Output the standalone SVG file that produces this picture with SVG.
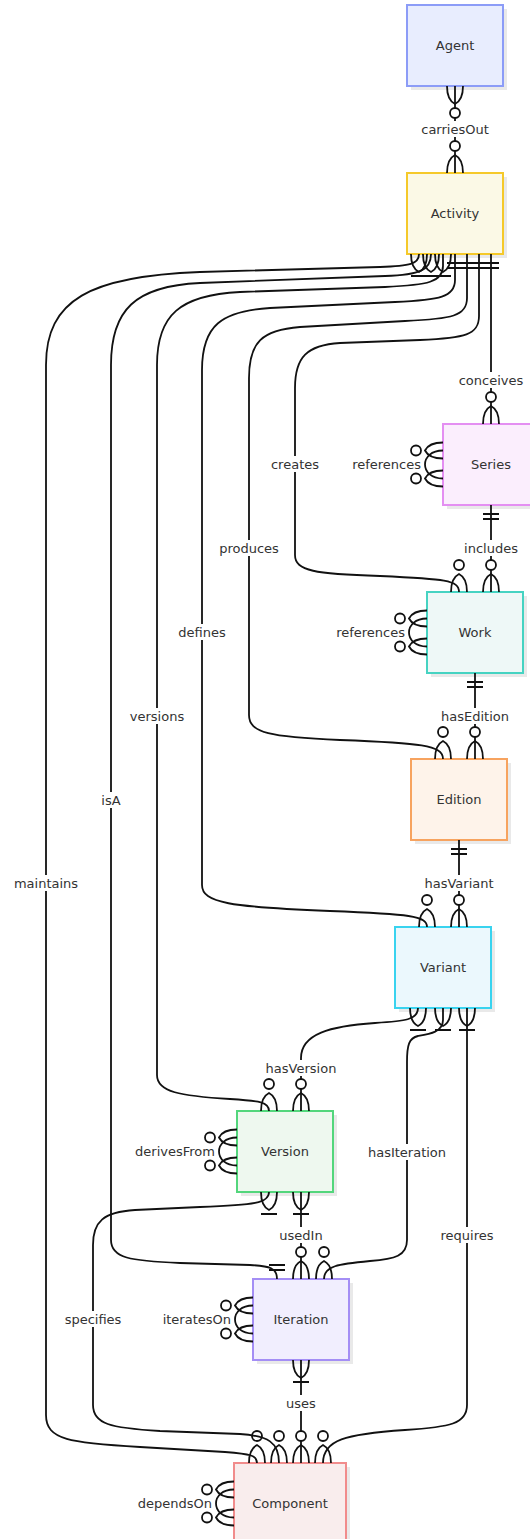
<svg xmlns="http://www.w3.org/2000/svg" width="530" height="1539" viewBox="0 0 530 1539">
<style>
.shadow{fill:#e9e9e9}
.box{stroke-width:2}
.nl{font-family:"DejaVu Sans",sans-serif;font-size:13px;fill:#333;text-anchor:middle;dominant-baseline:central}
.el{font-family:"DejaVu Sans",sans-serif;font-size:13px;fill:#333;text-anchor:middle;dominant-baseline:central}
.er{text-anchor:end}
.lbg{fill:#fff}
.edge{fill:none;stroke:#111;stroke-width:1.8}
.m{fill:none;stroke:#111;stroke-width:1.8}
.mc{fill:#fff;stroke:#111;stroke-width:1.8}
</style>
<defs>
<marker id="zm" markerUnits="userSpaceOnUse" viewBox="-40 -12 44 24" markerWidth="44" markerHeight="24" refX="0" refY="0" orient="auto-start-reverse" overflow="visible">
<path class="m" d="M0,-8 Q-14,-8 -18,0 Q-14,8 0,8"/>
<circle class="mc" cx="-27" cy="0" r="5"/>
</marker>
<marker id="om" markerUnits="userSpaceOnUse" viewBox="-40 -12 44 24" markerWidth="44" markerHeight="24" refX="0" refY="0" orient="auto-start-reverse" overflow="visible">
<path class="m" d="M0,-8 Q-14,-8 -18,0 Q-14,8 0,8 M-22,-8 L-22,8"/>
</marker>
<marker id="oo" markerUnits="userSpaceOnUse" viewBox="-40 -12 44 24" markerWidth="44" markerHeight="24" refX="0" refY="0" orient="auto-start-reverse" overflow="visible">
<path class="m" d="M-9,-8 L-9,8 M-14,-8 L-14,8"/>
</marker>
</defs>
<rect width="530" height="1539" fill="#fff"/>

<g id="nodes">
<g id="Agent"><rect class="shadow" x="411" y="9" width="96" height="81"/><rect class="box" x="407" y="5" width="96" height="81" fill="#e8edfe" stroke="#8c9cf7"/><text class="nl" x="455" y="45.5">Agent</text></g>
<g id="Activity"><rect class="shadow" x="411" y="177" width="96" height="81"/><rect class="box" x="407" y="173" width="96" height="81" fill="#fbf9e6" stroke="#f5c92a"/><text class="nl" x="455" y="213.5">Activity</text></g>
<g id="Series"><rect class="shadow" x="447" y="428" width="96" height="81"/><rect class="box" x="443" y="424" width="96" height="81" fill="#fbeefd" stroke="#e48ff2"/><text class="nl" x="491" y="464.5">Series</text></g>
<g id="Work"><rect class="shadow" x="431" y="596" width="96" height="81"/><rect class="box" x="427" y="592" width="96" height="81" fill="#eef8f7" stroke="#46d3c2"/><text class="nl" x="475" y="632.5">Work</text></g>
<g id="Edition"><rect class="shadow" x="415" y="763" width="96" height="81"/><rect class="box" x="411" y="759" width="96" height="81" fill="#fef3ea" stroke="#f7a35f"/><text class="nl" x="459" y="799.5">Edition</text></g>
<g id="Variant"><rect class="shadow" x="399" y="931" width="96" height="81"/><rect class="box" x="395" y="927" width="96" height="81" fill="#ebf8fd" stroke="#39d3ef"/><text class="nl" x="443" y="967.5">Variant</text></g>
<g id="Version"><rect class="shadow" x="241" y="1115" width="96" height="81"/><rect class="box" x="237" y="1111" width="96" height="81" fill="#eef8ef" stroke="#53d67c"/><text class="nl" x="285" y="1151.5">Version</text></g>
<g id="Iteration"><rect class="shadow" x="257" y="1283" width="96" height="81"/><rect class="box" x="253" y="1279" width="96" height="81" fill="#f1eefe" stroke="#a48ef5"/><text class="nl" x="301" y="1319.5">Iteration</text></g>
<g id="Component"><rect class="shadow" x="238" y="1467" width="112" height="81"/><rect class="box" x="234" y="1463" width="112" height="81" fill="#f9eded" stroke="#f18c8c"/><text class="nl" x="290" y="1503.5">Component</text></g>
</g>

<g id="connectors">
<path class="edge" marker-start="url(#zm)" marker-end="url(#zm)" d="M455,86 V173"/>
<path class="edge" marker-start="url(#oo)" marker-end="url(#zm)" d="M491,254 V424"/>
<path class="edge" marker-start="url(#oo)" marker-end="url(#zm)" d="M479,254 V316 C479,335 465,338 420,340 L340,343 C307,345 295,357 295,388 V555 C295,571 315,574 380,576 C445,579 459,580 459,592"/>
<path class="edge" marker-start="url(#oo)" marker-end="url(#zm)" d="M467,254 V298 C467,316 452,319 405,321 L300,327 C262,330 249,342 249,378 V715 C249,733 270,737 340,740 C420,743 443,745 443,759"/>
<path class="edge" marker-start="url(#oo)" marker-end="url(#zm)" d="M455,254 V280 C455,297 440,300 395,302 L270,308 C222,311 202,325 202,370 V885 C202,903 230,907 330,911 C410,914 427,916 427,927"/>
<path class="edge" marker-start="url(#om)" marker-end="url(#zm)" d="M443,254 V266 C443,282 428,285 385,287 L240,292 C180,295 157,315 157,365 V1075 C157,1092 180,1096 230,1099 C260,1101 269,1102 269,1111"/>
<path class="edge" marker-start="url(#om)" marker-end="url(#oo)" d="M431,254 C431,270 420,275 385,276 L200,283 C135,286 111,310 111,365 V1240 C111,1258 130,1261 180,1263 L250,1265 C270,1266 277,1268 277,1279"/>
<path class="edge" marker-start="url(#om)" marker-end="url(#zm)" d="M419,254 C419,264 410,266 380,267 L200,272 C90,276 46,300 46,365 V1415 C46,1440 70,1443 140,1447 L225,1452 C250,1454 257,1455 257,1463"/>
<path class="edge" marker-start="url(#oo)" marker-end="url(#zm)" d="M491,505 V592"/>
<path class="edge" marker-start="url(#oo)" marker-end="url(#zm)" d="M475,673 V759"/>
<path class="edge" marker-start="url(#oo)" marker-end="url(#zm)" d="M459,840 V927"/>
<path class="edge" marker-start="url(#om)" marker-end="url(#zm)" d="M418,1008 C418,1020 405,1021 375,1023 C330,1026 301,1034 301,1058 V1111"/>
<path class="edge" marker-start="url(#om)" marker-end="url(#zm)" d="M443,1008 V1020 C443,1032 430,1034 418,1036 C409,1038 407,1045 407,1062 V1240 C407,1256 395,1259 370,1261 C338,1264 324,1266 324,1279"/>
<path class="edge" marker-start="url(#om)" marker-end="url(#zm)" d="M467,1008 V1405 C467,1424 450,1427 405,1430 C345,1434 323,1440 323,1463"/>
<path class="edge" marker-start="url(#om)" marker-end="url(#zm)" d="M269,1192 C269,1203 255,1205 200,1207 L135,1210 C103,1212 93,1222 93,1245 V1405 C93,1424 110,1428 160,1431 L240,1434 C268,1436 279,1442 279,1463"/>
<path class="edge" marker-start="url(#om)" marker-end="url(#zm)" d="M301,1192 V1279"/>
<path class="edge" marker-start="url(#om)" marker-end="url(#zm)" d="M301,1360 V1463"/>
<path class="edge" marker-start="url(#zm)" marker-end="url(#zm)" d="M443,450.5 C419,450.5 419,478.5 443,478.5"/>
<path class="edge" marker-start="url(#zm)" marker-end="url(#zm)" d="M427,618.5 C403,618.5 403,646.5 427,646.5"/>
<path class="edge" marker-start="url(#zm)" marker-end="url(#zm)" d="M237,1137.5 C213,1137.5 213,1165.5 237,1165.5"/>
<path class="edge" marker-start="url(#zm)" marker-end="url(#zm)" d="M253,1305.5 C229,1305.5 229,1333.5 253,1333.5"/>
<path class="edge" marker-start="url(#zm)" marker-end="url(#zm)" d="M234,1489.5 C210,1489.5 210,1517.5 234,1517.5"/>

<g id="edge-labels">
<rect class="lbg" x="420" y="121" width="70" height="16"/><text class="el" x="455" y="129">carriesOut</text>
<rect class="lbg" x="457" y="372" width="68" height="16"/><text class="el" x="491" y="380">conceives</text>
<rect class="lbg" x="270" y="456" width="50" height="16"/><text class="el" x="295" y="464">creates</text>
<text class="el er" x="421" y="464.5">references</text>
<rect class="lbg" x="464" y="540" width="54" height="16"/><text class="el" x="491" y="548">includes</text>
<rect class="lbg" x="218" y="540" width="62" height="16"/><text class="el" x="249" y="548">produces</text>
<rect class="lbg" x="177" y="624" width="50" height="16"/><text class="el" x="202" y="632">defines</text>
<text class="el er" x="405" y="632.5">references</text>
<rect class="lbg" x="129" y="708" width="56" height="16"/><text class="el" x="157" y="716">versions</text>
<rect class="lbg" x="438" y="708" width="74" height="16"/><text class="el" x="475" y="716">hasEdition</text>
<rect class="lbg" x="100" y="792" width="22" height="16"/><text class="el" x="111" y="800">isA</text>
<rect class="lbg" x="13" y="875" width="66" height="16"/><text class="el" x="46" y="883">maintains</text>
<rect class="lbg" x="422" y="875" width="74" height="16"/><text class="el" x="459" y="883">hasVariant</text>
<rect class="lbg" x="264" y="1060" width="74" height="16"/><text class="el" x="301" y="1068">hasVersion</text>
<text class="el er" x="215" y="1151.5">derivesFrom</text>
<rect class="lbg" x="367" y="1144" width="80" height="16"/><text class="el" x="407" y="1152">hasIteration</text>
<rect class="lbg" x="277" y="1227" width="48" height="16"/><text class="el" x="301" y="1235">usedIn</text>
<rect class="lbg" x="439" y="1227" width="56" height="16"/><text class="el" x="467" y="1235">requires</text>
<rect class="lbg" x="64" y="1311" width="58" height="16"/><text class="el" x="93" y="1319">specifies</text>
<text class="el er" x="231" y="1319.5">iteratesOn</text>
<rect class="lbg" x="284" y="1395" width="34" height="16"/><text class="el" x="301" y="1403">uses</text>
<text class="el er" x="212" y="1503.5">dependsOn</text>
</g>
</g>
</svg>
